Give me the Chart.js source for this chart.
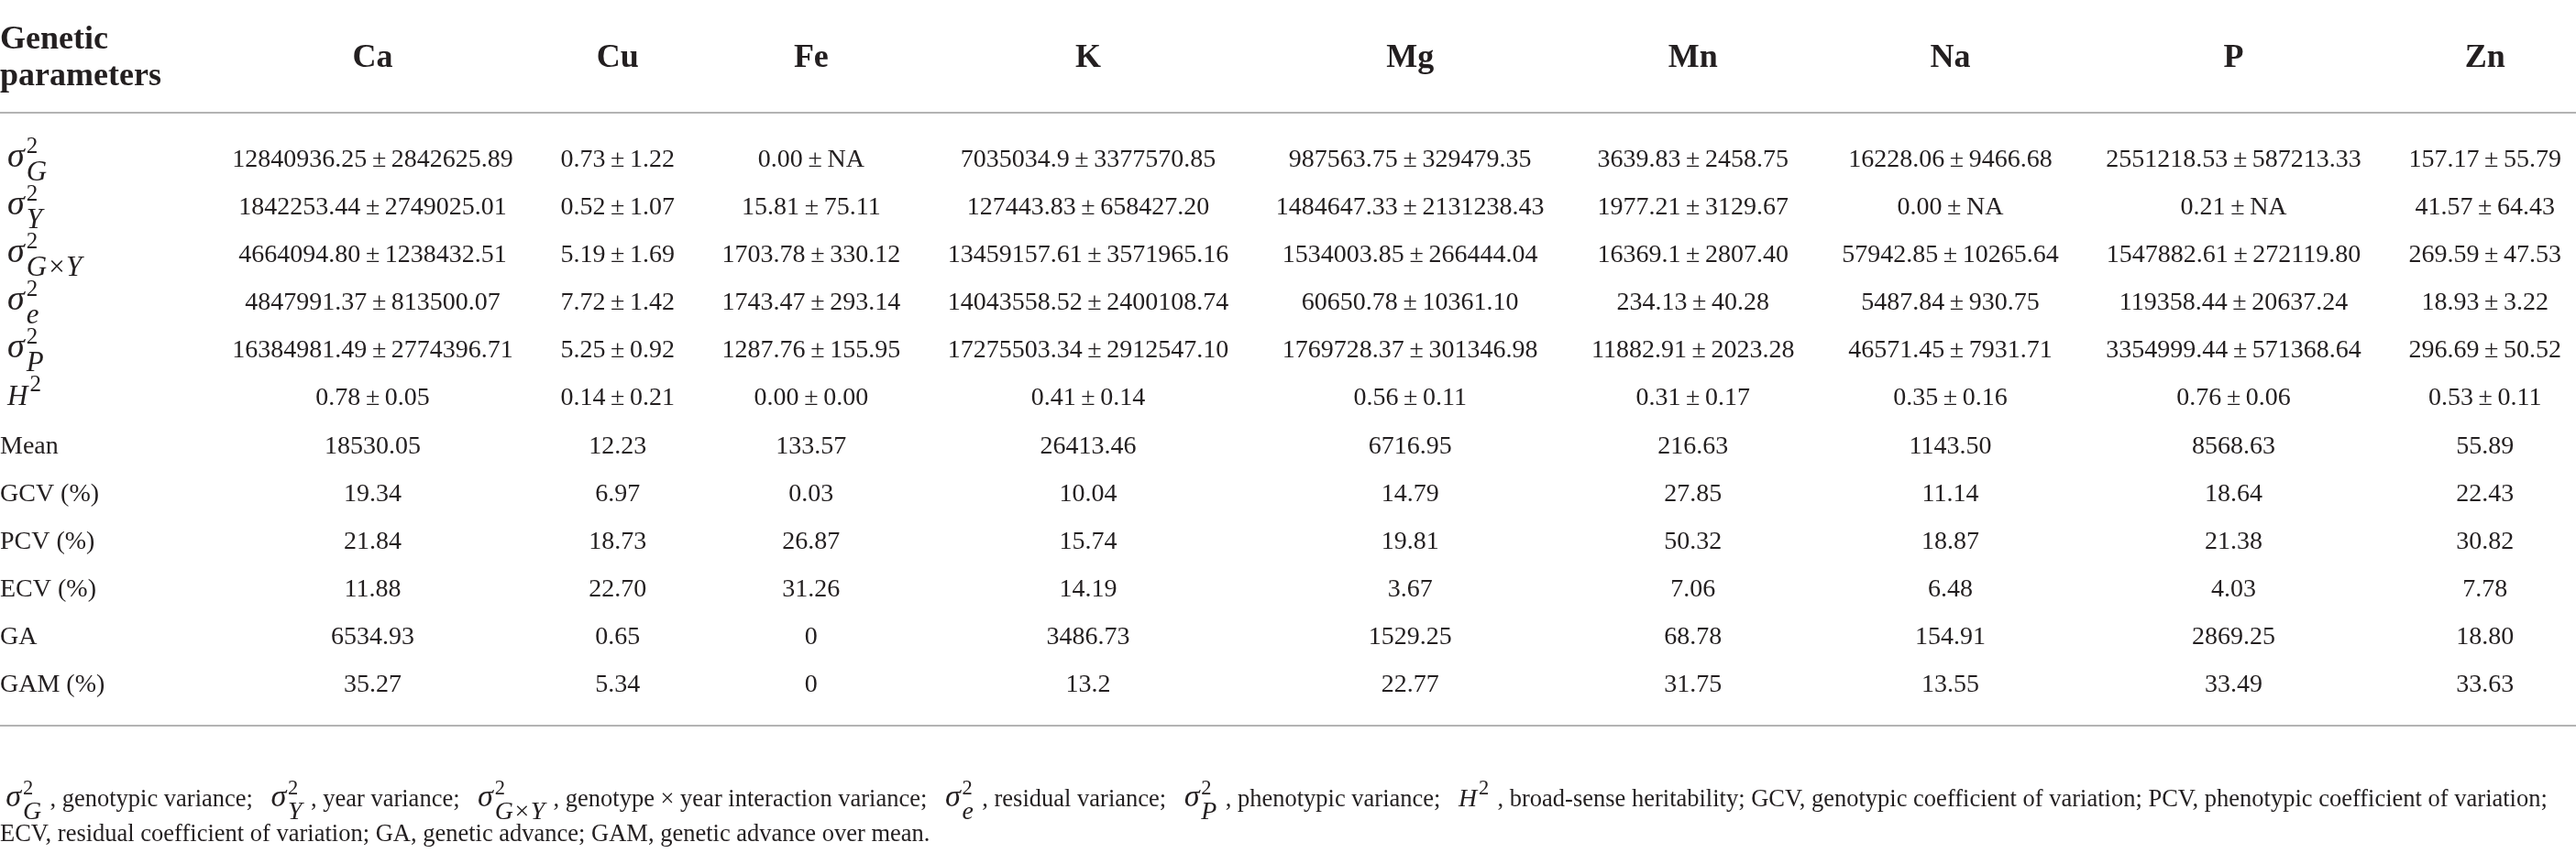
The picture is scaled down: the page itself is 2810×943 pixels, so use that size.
<!DOCTYPE html>
<html>
<head>
<meta charset="utf-8">
<style>
  html, body { margin: 0; padding: 0; background: #fff; }
  canvas { display: block; }
</style>
<script src="https://cdn.jsdelivr.net/npm/chart.js@4.4.0/dist/chart.umd.min.js"></script>
</head>
<body>
<canvas id="geneticTable" width="2810" height="943"></canvas>
<script>
// ---- Data ----
const elements = ['Ca', 'Cu', 'Fe', 'K', 'Mg', 'Mn', 'Na', 'P', 'Zn'];
const paramKeys = ['varG', 'varY', 'varGY', 'varE', 'varP', 'H2', 'Mean', 'GCV', 'PCV', 'ECV', 'GA', 'GAM'];

const varG  = ['12840936.25 ± 2842625.89', '0.73 ± 1.22', '0.00 ± NA', '7035034.9 ± 3377570.85', '987563.75 ± 329479.35', '3639.83 ± 2458.75', '16228.06 ± 9466.68', '2551218.53 ± 587213.33', '157.17 ± 55.79'];
const varY  = ['1842253.44 ± 2749025.01', '0.52 ± 1.07', '15.81 ± 75.11', '127443.83 ± 658427.20', '1484647.33 ± 2131238.43', '1977.21 ± 3129.67', '0.00 ± NA', '0.21 ± NA', '41.57 ± 64.43'];
const varGY = ['4664094.80 ± 1238432.51', '5.19 ± 1.69', '1703.78 ± 330.12', '13459157.61 ± 3571965.16', '1534003.85 ± 266444.04', '16369.1 ± 2807.40', '57942.85 ± 10265.64', '1547882.61 ± 272119.80', '269.59 ± 47.53'];
const varE  = ['4847991.37 ± 813500.07', '7.72 ± 1.42', '1743.47 ± 293.14', '14043558.52 ± 2400108.74', '60650.78 ± 10361.10', '234.13 ± 40.28', '5487.84 ± 930.75', '119358.44 ± 20637.24', '18.93 ± 3.22'];
const varP  = ['16384981.49 ± 2774396.71', '5.25 ± 0.92', '1287.76 ± 155.95', '17275503.34 ± 2912547.10', '1769728.37 ± 301346.98', '11882.91 ± 2023.28', '46571.45 ± 7931.71', '3354999.44 ± 571368.64', '296.69 ± 50.52'];
const herit = ['0.78 ± 0.05', '0.14 ± 0.21', '0.00 ± 0.00', '0.41 ± 0.14', '0.56 ± 0.11', '0.31 ± 0.17', '0.35 ± 0.16', '0.76 ± 0.06', '0.53 ± 0.11'];
const means = ['18530.05', '12.23', '133.57', '26413.46', '6716.95', '216.63', '1143.50', '8568.63', '55.89'];
const gcv   = ['19.34', '6.97', '0.03', '10.04', '14.79', '27.85', '11.14', '18.64', '22.43'];
const pcv   = ['21.84', '18.73', '26.87', '15.74', '19.81', '50.32', '18.87', '21.38', '30.82'];
const ecv   = ['11.88', '22.70', '31.26', '14.19', '3.67', '7.06', '6.48', '4.03', '7.78'];
const ga    = ['6534.93', '0.65', '0', '3486.73', '1529.25', '68.78', '154.91', '2869.25', '18.80'];
const gam   = ['35.27', '5.34', '0', '13.2', '22.77', '31.75', '13.55', '33.49', '33.63'];

const tableRows = [varG, varY, varGY, varE, varP, herit, means, gcv, pcv, ecv, ga, gam];

// row labels: math ones as symbol/superscript/subscript
const rowLabels = [
  { sym: 'σ', sup: '2', sub: 'G' },
  { sym: 'σ', sup: '2', sub: 'Y' },
  { sym: 'σ', sup: '2', sub: 'G×Y' },
  { sym: 'σ', sup: '2', sub: 'e' },
  { sym: 'σ', sup: '2', sub: 'P' },
  { sym: 'H', sup: '2', sub: '' },
  'Mean', 'GCV (%)', 'PCV (%)', 'ECV (%)', 'GA', 'GAM (%)'
];
const headerLines = ['Genetic', 'parameters'];

const noteLine1 = [
  rowLabels[0], ' , genotypic variance;  ',
  rowLabels[1], ' , year variance;  ',
  rowLabels[2], ' , genotype × year interaction variance;  ',
  rowLabels[3], ' , residual variance;  ',
  rowLabels[4], ' , phenotypic variance;  ',
  rowLabels[5], ' , broad-sense heritability; GCV, genotypic coefficient of variation; PCV, phenotypic coefficient of variation;'
];
const noteLine2 = ['ECV, residual coefficient of variation; GA, genetic advance; GAM, genetic advance over mean.'];

// ---- Styles ----
const INK = '#231f20';
const RULE = '#9a9a9a';
const FAMILY = '"Liberation Serif", "Times New Roman", serif';
const BODY_FONT = '28px ' + FAMILY;
const HEAD_FONT = 'bold 36px ' + FAMILY;
const NOTE_FONT = '26.5px ' + FAMILY;
const W = 2810;
const END_MARGIN = 16;

const fmt = s => s.replace(' ± ', '\u2009±\u2009');

// ---- Column layout (auto table: equal slack per column) ----
const measureCtx = document.createElement('canvas').getContext('2d');
function textW(str, font) { measureCtx.font = font; return measureCtx.measureText(str).width; }

const colText = elements.map((el, c) =>
  Math.max(textW(el, HEAD_FONT), ...tableRows.map(r => textW(fmt(r[c]), BODY_FONT))));
const labelText = Math.max(...headerLines.map(s => textW(s, HEAD_FONT)),
  ...rowLabels.filter(l => typeof l === 'string').map(s => textW(s, BODY_FONT)));
const slack = (W - END_MARGIN - labelText - colText.reduce((a, b) => a + b, 0)) / (elements.length + 0.5);
const colCenters = [];
let cursor = labelText + slack;
colText.forEach(w => { colCenters.push(cursor + (w + slack) / 2); cursor += w + slack; });

// ---- Math label drawing (symbol with stacked super/subscript) ----
function drawMath(ctx, x, base, m, s) {
  const symSize = m.sym === 'σ' ? 38 : 31;
  const x0 = x + 7 * s;
  ctx.textAlign = 'left';
  ctx.font = `italic ${symSize * s}px ${FAMILY}`;
  ctx.fillText(m.sym, x0, base);
  const w = ctx.measureText(m.sym).width + 2 * s;
  ctx.font = `${25 * s}px ${FAMILY}`;
  ctx.fillText(m.sup, x0 + w, base - 15 * s);
  const supW = ctx.measureText(m.sup).width;
  let subW = 0;
  if (m.sub) {
    ctx.font = `italic ${31 * s}px ${FAMILY}`;
    ctx.fillText(m.sub, x0 + w, base + 15 * s);
    subW = ctx.measureText(m.sub).width;
  }
  return 7 * s + w + Math.max(supW, subW) + 3 * s;
}

function drawRich(ctx, x, base, parts) {
  parts.forEach(p => {
    if (typeof p === 'string') {
      ctx.font = NOTE_FONT;
      ctx.textAlign = 'left';
      ctx.fillText(p, x, base);
      x += ctx.measureText(p).width;
    } else {
      x += drawMath(ctx, x, base, p, 0.9);
    }
  });
}

// ---- Table plugin ----
const tablePlugin = {
  id: 'tableText',
  afterDatasetsDraw(chart) {
    const { ctx, chartArea, scales: { x, y } } = chart;
    const shift = 9;
    ctx.save();
    ctx.fillStyle = INK;
    ctx.textBaseline = 'alphabetic';

    // header
    ctx.font = HEAD_FONT;
    ctx.textAlign = 'left';
    ctx.fillText(headerLines[0], 0, chartArea.top - 94);
    ctx.fillText(headerLines[1], 0, chartArea.top - 54);
    ctx.textAlign = 'center';
    elements.forEach((el, c) => ctx.fillText(el, x.getPixelForValue(colCenters[c]), chartArea.top - 74));

    // rules
    ctx.strokeStyle = RULE;
    ctx.lineWidth = 1.6;
    [chartArea.top - 24, chartArea.bottom + 20].forEach(yy => {
      ctx.beginPath();
      ctx.moveTo(chartArea.left, yy);
      ctx.lineTo(chartArea.right, yy);
      ctx.stroke();
    });

    // row labels
    rowLabels.forEach((lab, r) => {
      const base = y.getPixelForValue(r) + shift;
      if (typeof lab === 'string') {
        ctx.font = BODY_FONT;
        ctx.textAlign = 'left';
        ctx.fillText(lab, 0, base);
      } else {
        drawMath(ctx, 1, base, lab, 1);
      }
    });

    // cells
    ctx.font = BODY_FONT;
    ctx.textAlign = 'center';
    chart.data.datasets.forEach((ds, i) => {
      chart.getDatasetMeta(i).data.forEach((pt, j) => {
        ctx.fillText(fmt(ds.data[j].text), pt.x, pt.y + shift);
      });
    });

    // footnote
    drawRich(ctx, 0, chartArea.bottom + 108, noteLine1);
    drawRich(ctx, 0, chartArea.bottom + 146, noteLine2);
    ctx.restore();
  }
};

// ---- Chart ----
new Chart(document.getElementById('geneticTable'), {
  type: 'scatter',
  data: {
    datasets: tableRows.map((vals, r) => ({
      label: paramKeys[r],
      data: vals.map((v, c) => ({ x: colCenters[c], y: paramKeys[r], text: v })),
      pointRadius: 0,
      pointHoverRadius: 0
    }))
  },
  options: {
    responsive: false,
    animation: false,
    devicePixelRatio: 1,
    layout: { padding: { top: 147, bottom: 171, left: 0, right: 0 } },
    plugins: { legend: { display: false }, tooltip: { enabled: false } },
    scales: {
      x: { type: 'linear', min: 0, max: W, display: false },
      y: { type: 'category', labels: paramKeys, offset: true, display: false }
    }
  },
  plugins: [tablePlugin]
});
</script>
</body>
</html>
